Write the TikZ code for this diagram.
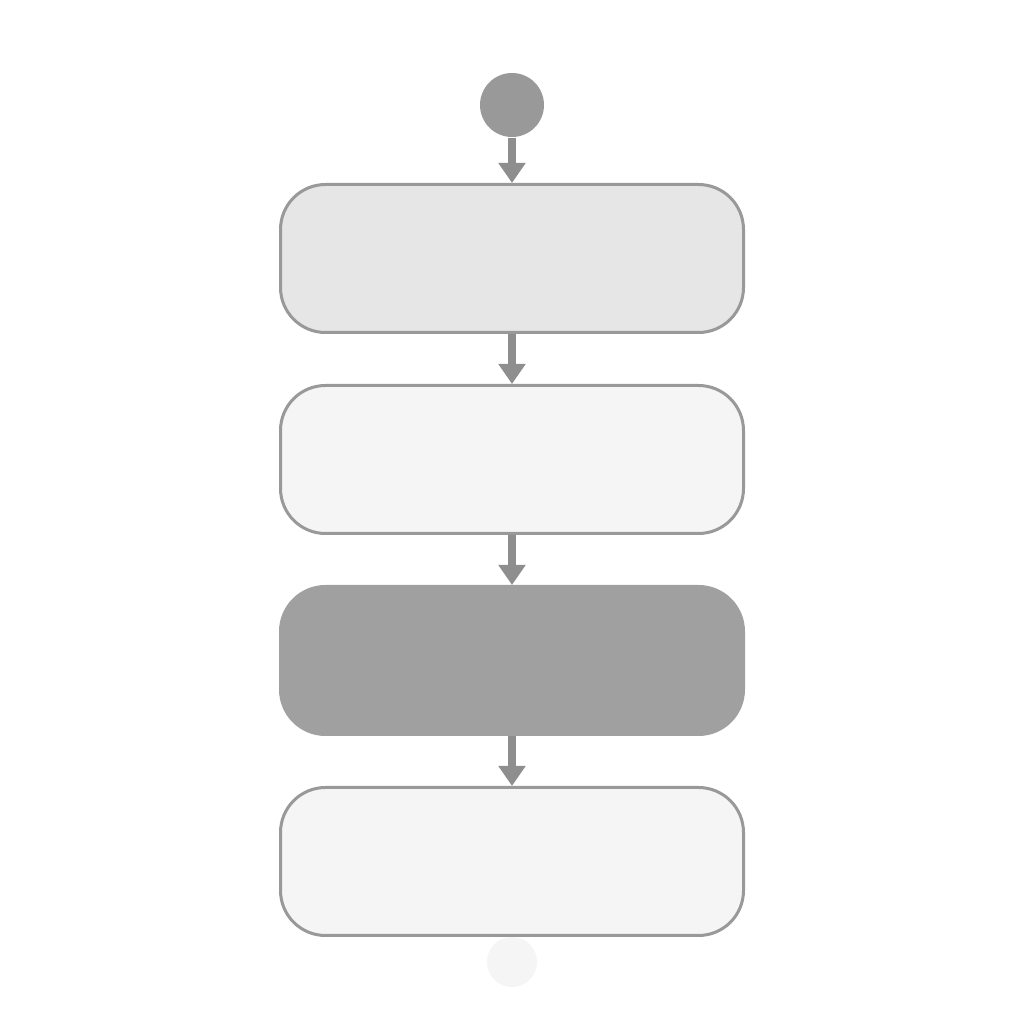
\documentclass[tikz,border=0pt]{standalone}
\usepackage{tikz}
\usetikzlibrary{positioning,arrows.meta}
\definecolor{linegray}{HTML}{999999}
\definecolor{arrowgray}{HTML}{8E8E8E}
\definecolor{lightfill}{HTML}{E6E6E6}
\definecolor{paperfill}{HTML}{F5F5F5}
\definecolor{darkfill}{HTML}{A0A0A0}
\tikzset{
  stagebox/.style={draw=linegray,line width=0.03cm,rectangle,rounded corners=0.45cm,
    minimum width=4.63cm,minimum height=1.48cm,inner sep=0pt},
  startdot/.style={circle,fill=linegray,minimum size=0.64cm,inner sep=0pt},
  enddot/.style={circle,fill=paperfill,minimum size=0.5cm,inner sep=0pt},
  flow/.style={draw=arrowgray,line width=0.08cm,-{Triangle[width=0.26cm,length=0.2cm]}},
}

\begin{document}
\begin{tikzpicture}
\useasboundingbox[fill=white] (0,0) rectangle (10.24,10.24);
\node[startdot] (start) at (5.12,9.19) {};
\node[stagebox,fill=lightfill] (stage1) at (5.12,7.655) {};
\node[stagebox,fill=paperfill,below=0.5cm of stage1] (stage2) {};
\node[stagebox,fill=darkfill,draw=darkfill,below=0.5cm of stage2] (stage3) {};
\node[stagebox,fill=paperfill,below=0.5cm of stage3] (stage4) {};
\node[enddot] (end) at (5.12,0.62) {};
\draw[flow] (start) -- (stage1);
\draw[flow] (stage1) -- (stage2);
\draw[flow] (stage2) -- (stage3);
\draw[flow] (stage3) -- (stage4);
\end{tikzpicture}
\end{document}
